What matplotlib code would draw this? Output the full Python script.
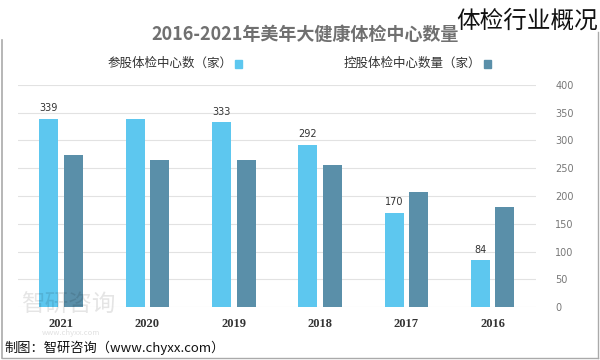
import matplotlib
matplotlib.use("Agg")
import matplotlib.pyplot as plt
from matplotlib.patches import Rectangle
from matplotlib.lines import Line2D

plt.rcParams['font.family'] = ['Noto Sans CJK SC', 'DejaVu Sans']

years = ['2016', '2017', '2018', '2019', '2020', '2021']
shareholding = [84, 170, 292, 333, 339, 339]      # 参股体检中心数（家）
holding = [180, 208, 256, 265, 265, 273]          # 控股体检中心数量（家）
share_labels = ['84', '170', '292', '333', '', '339']
yticks = [0, 50, 100, 150, 200, 250, 300, 350, 400]

light = '#5DC7EF'
dark = '#5A8FA9'

fig = plt.figure(figsize=(6, 3.6), dpi=100)
ax = fig.add_axes([0.03, 0.147, 0.863, 0.617])

x = list(range(len(years)))
w = 0.22
off = 0.143
b1 = ax.bar([i + off for i in x], shareholding, width=w, color=light, zorder=3)
b2 = ax.bar([i - off for i in x], holding, width=w, color=dark, zorder=3)
ax.bar_label(b1, labels=share_labels, padding=4, fontsize=7, color='#333333',
             family=['DejaVu Sans'])

ax.set_xlim(-0.5, 5.5)
ax.invert_xaxis()
ax.set_ylim(0, 400)
ax.set_yticks(yticks)
ax.yaxis.tick_right()
ax.tick_params(axis='y', length=0, labelsize=7, labelcolor='#777777', pad=14)
ax.set_yticklabels([str(v) for v in yticks], family=['DejaVu Sans'])
ax.set_xticks(x)
ax.set_xticklabels(years, fontsize=9, fontweight='bold', color='#333333',
                   family=['Liberation Serif'])
ax.tick_params(axis='x', length=0, pad=8)
ax.grid(axis='y', color='#E2E2E2', linewidth=0.8, zorder=0)
for s in ax.spines.values():
    s.set_visible(False)

# Titles
fig.text(0.508, 0.903, '2016-2021年美年大健康体检中心数量', ha='center', va='center',
         fontsize=13, fontweight='bold', color='#707070')
fig.text(0.997, 0.94, '体检行业概况', ha='right', va='center', fontsize=17,
         color='#111111', fontweight='light')

# Legend (mirrored layout)
fig.patches.append(Rectangle((0.392, 0.812), 0.012, 0.022, transform=fig.transFigure,
                             color=light, figure=fig))
fig.text(0.387, 0.823, '参股体检中心数（家）', ha='right', va='center', fontsize=9,
         color='#333333')
fig.patches.append(Rectangle((0.806, 0.812), 0.012, 0.022, transform=fig.transFigure,
                             color=dark, figure=fig))
fig.text(0.801, 0.823, '控股体检中心数量（家）', ha='right', va='center', fontsize=9,
         color='#333333')

# Watermark
fig.text(0.035, 0.152, '智研咨询', fontsize=17, color='#000000', alpha=0.1,
         ha='left', va='center')
fig.text(0.07, 0.074, 'www.chyxx.com', fontsize=5.5, color='#000000', alpha=0.12,
         ha='left', va='center')

# Source
fig.text(0.008, 0.035, '制图：智研咨询（www.chyxx.com）', fontsize=9.5, color='#111111',
         ha='left', va='center')

# Border
fig.lines.append(Line2D([0.003, 0.003], [0.005, 0.89], transform=fig.transFigure,
                        color='#AAAAAA', linewidth=1.2))
fig.lines.append(Line2D([0.997, 0.997], [0.005, 0.91], transform=fig.transFigure,
                        color='#AAAAAA', linewidth=1.0))
fig.lines.append(Line2D([0.003, 0.997], [0.006, 0.006], transform=fig.transFigure,
                        color='#AAAAAA', linewidth=1.0))

fig.savefig('out.png', dpi=100)
